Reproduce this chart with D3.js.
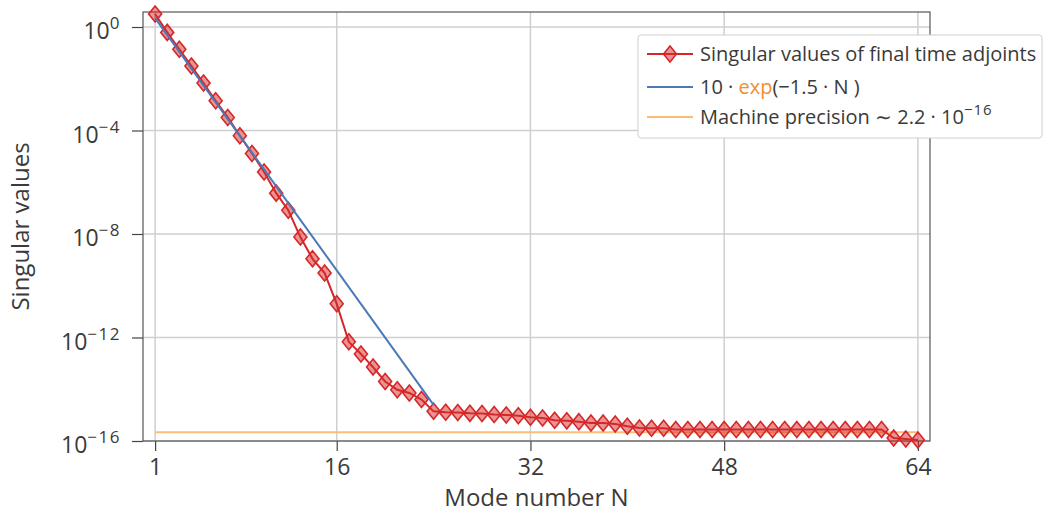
<!DOCTYPE html>
<html>
<head>
<meta charset="utf-8">
<script src="https://cdn.jsdelivr.net/npm/d3@7"></script>
<style>
    html, body { margin: 0; padding: 0; background: #fff; }
    text { font-family: "Open Sans", Lato, sans-serif; fill: #3a3a3a; }
</style>
</head>
<body>
<div id="chart"></div>
<script>
// Singular values for mode numbers N = 1 .. 64
const singularValues = [
    3.2, 0.62, 0.138, 0.031, 6.8e-3, 1.4e-3, 3.2e-4, 6.3e-5, 1.3e-5, 2.5e-6,
    3.8e-7, 8.3e-8, 7.6e-9, 1.1e-9, 3.1e-10, 2.0e-11, 6.8e-13, 2.3e-13, 7.2e-14, 2.0e-14,
    9.5e-15, 7.2e-15, 4.0e-15, 1.4e-15, 1.3e-15, 1.26e-15, 1.17e-15, 1.15e-15, 1.05e-15, 1.02e-15,
    9.5e-16, 8.3e-16, 7.8e-16, 6.3e-16, 6.0e-16, 5.6e-16, 5.0e-16, 5.0e-16, 4.5e-16, 3.7e-16,
    3.2e-16, 3.1e-16, 3.1e-16, 2.8e-16, 2.8e-16, 2.8e-16, 2.8e-16, 2.8e-16, 2.8e-16, 2.8e-16,
    2.8e-16, 2.8e-16, 2.8e-16, 2.8e-16, 2.8e-16, 2.8e-16, 2.8e-16, 2.8e-16, 2.8e-16, 2.8e-16,
    2.8e-16, 1.3e-16, 1.2e-16, 1.1e-16
];

// 10 * exp(-1.5 N) reference line, end points
const fitModes = [1, 24];
const fitValues = [2.2, 2.5e-15];

// Machine precision line
const machineModes = [1, 64];
const machineValues = [2.2e-16, 2.2e-16];

const xTicks = [1, 16, 32, 48, 64];
const yTickExponents = [0, -4, -8, -12, -16];

const redColor = "#d62728";
const blueColor = "#4a78b8";
const orangeColor = "#ffbb78";

const width = 1044;
const height = 512;
const marginTop = 12;
const marginRight = 114;
const marginBottom = 71;
const marginLeft = 143;

const svg = d3.select("#chart").append("svg")
    .attr("width", width)
    .attr("height", height)
    .attr("viewBox", [0, 0, width, height]);

const x = d3.scaleLinear([0, 65], [marginLeft, width - marginRight]);
const y = d3.scaleLog([1e-16, Math.pow(10, 0.58)], [height - marginBottom, marginTop]);

// Grid
svg.append("g")
    .selectAll("line")
    .data(xTicks)
    .join("line")
    .attr("x1", d => x(d))
    .attr("x2", d => x(d))
    .attr("y1", marginTop)
    .attr("y2", height - marginBottom)
    .attr("stroke", "#cfcfcf")
    .attr("stroke-width", 1.5);

svg.append("g")
    .selectAll("line")
    .data(yTickExponents)
    .join("line")
    .attr("x1", marginLeft)
    .attr("x2", width - marginRight)
    .attr("y1", d => y(Math.pow(10, d)))
    .attr("y2", d => y(Math.pow(10, d)))
    .attr("stroke", "#cfcfcf")
    .attr("stroke-width", 1.5);

// Axes
const xAxis = d3.axisBottom(x).tickValues(xTicks).tickSize(10).tickPadding(8);
svg.append("g")
    .attr("transform", `translate(0,${height - marginBottom})`)
    .call(xAxis)
    .call(g => g.select(".domain").remove())
    .call(g => g.selectAll(".tick line").attr("stroke", "#444").attr("stroke-width", 1.2))
    .call(g => g.selectAll(".tick text")
        .attr("font-family", "'Open Sans', sans-serif")
        .attr("font-size", 23)
        .attr("fill", "#3a3a3a"));

const yAxis = d3.axisLeft(y).tickValues(yTickExponents.map(e => Math.pow(10, e))).tickSize(11).tickFormat("");
svg.append("g")
    .attr("transform", `translate(${marginLeft},0)`)
    .call(yAxis)
    .call(g => g.select(".domain").remove())
    .call(g => g.selectAll(".tick line").attr("stroke", "#444").attr("stroke-width", 1.2));

// Tick labels as 10 with superscript exponent
const yLabels = svg.append("g")
    .selectAll("text")
    .data(yTickExponents)
    .join("text")
    .attr("x", marginLeft - 22)
    .attr("y", d => y(Math.pow(10, d)) + 12)
    .attr("text-anchor", "end")
    .attr("font-size", 23);
yLabels.append("tspan").text("10");
yLabels.append("tspan")
    .attr("dy", -10)
    .attr("font-size", 17)
    .attr("letter-spacing", 1.5)
    .text(d => d === 0 ? "0" : "\u2212" + Math.abs(d));

// Frame
svg.append("rect")
    .attr("x", marginLeft)
    .attr("y", marginTop)
    .attr("width", width - marginRight - marginLeft)
    .attr("height", height - marginBottom - marginTop)
    .attr("fill", "none")
    .attr("stroke", "#555")
    .attr("stroke-width", 1.2);

// Machine precision line
const lineGen = d3.line().x(d => x(d[0])).y(d => y(d[1]));
svg.append("path")
    .datum(machineModes.map((n, i) => [n, machineValues[i]]))
    .attr("d", lineGen)
    .attr("fill", "none")
    .attr("stroke", orangeColor)
    .attr("stroke-width", 2);

// Singular values line + markers
const svData = singularValues.map((v, i) => [i + 1, v]);
svg.append("path")
    .datum(svData)
    .attr("d", lineGen)
    .attr("fill", "none")
    .attr("stroke", redColor)
    .attr("stroke-width", 2);

const diamond = "M0,-8L6.5,0L0,8L-6.5,0Z";
svg.append("g")
    .selectAll("path")
    .data(svData)
    .join("path")
    .attr("transform", d => `translate(${x(d[0])},${y(d[1])})`)
    .attr("d", diamond)
    .attr("fill", "rgba(214,39,40,0.5)")
    .attr("stroke", redColor)
    .attr("stroke-width", 1.6);

// Fit line
svg.append("path")
    .datum(fitModes.map((n, i) => [n, fitValues[i]]))
    .attr("d", lineGen)
    .attr("fill", "none")
    .attr("stroke", blueColor)
    .attr("stroke-width", 2);

// Axis titles
svg.append("text")
    .attr("x", (marginLeft + width - marginRight) / 2)
    .attr("y", 506)
    .attr("text-anchor", "middle")
    .attr("font-size", 24)
    .text("Mode number N");

svg.append("text")
    .attr("transform", `translate(29,${(marginTop + height - marginBottom) / 2}) rotate(-90)`)
    .attr("text-anchor", "middle")
    .attr("font-size", 24)
    .text("Singular values");

// Legend
const legend = svg.append("g").attr("transform", "translate(638,35)");
legend.append("rect")
    .attr("width", 404)
    .attr("height", 103)
    .attr("rx", 3)
    .attr("fill", "#fff")
    .attr("stroke", "#d0d0d0");

const rows = [19, 52, 82];
legend.append("line")
    .attr("x1", 9).attr("x2", 55).attr("y1", rows[0]).attr("y2", rows[0])
    .attr("stroke", redColor).attr("stroke-width", 2);
legend.append("path")
    .attr("transform", `translate(32,${rows[0]})`)
    .attr("d", diamond)
    .attr("fill", "rgba(214,39,40,0.5)")
    .attr("stroke", redColor)
    .attr("stroke-width", 1.6);
legend.append("line")
    .attr("x1", 9).attr("x2", 55).attr("y1", rows[1]).attr("y2", rows[1])
    .attr("stroke", blueColor).attr("stroke-width", 2);
legend.append("line")
    .attr("x1", 9).attr("x2", 55).attr("y1", rows[2]).attr("y2", rows[2])
    .attr("stroke", orangeColor).attr("stroke-width", 2);

legend.append("text")
    .attr("x", 62).attr("y", rows[0] + 7)
    .attr("font-size", 20)
    .text("Singular values of final time adjoints");

const t2 = legend.append("text")
    .attr("x", 62).attr("y", rows[1] + 7)
    .attr("font-size", 20);
t2.append("tspan").text("10 \u00b7 ");
t2.append("tspan").style("fill", "#f28e2b").text("exp");
t2.append("tspan").text("(\u22121.5 \u00b7 N )");

const t3 = legend.append("text")
    .attr("x", 62).attr("y", rows[2] + 7)
    .attr("font-size", 20);
t3.append("tspan").text("Machine precision \u223c 2.2 \u00b7 10");
t3.append("tspan").attr("dy", -9).attr("font-size", 15).attr("letter-spacing", 1).text("\u221216");
</script>
</body>
</html>
